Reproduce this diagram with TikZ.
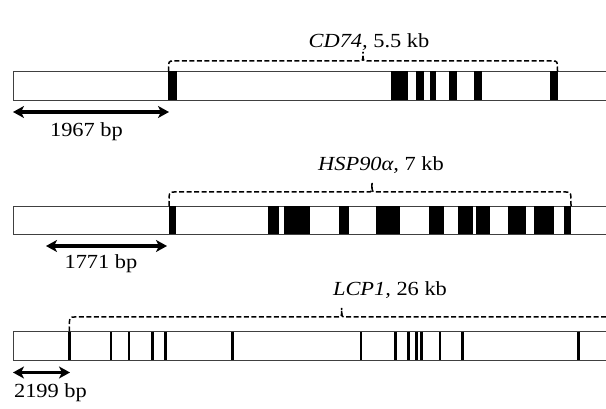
\documentclass[tikz,border=0pt]{standalone}
\usepackage{fontspec}
\setmainfont{Liberation Serif}[FakeStretch=1.12]
\usetikzlibrary{arrows.meta}
\tikzset{
  barline/.style={draw=black!75, line width=0.9pt},
  exon/.style={fill=black, draw=none},
  thinexon/.style={draw=black, line width=2.8pt},
  bracket/.style={draw=black, line width=1.5pt, dash pattern=on 5pt off 2.5pt},
  span/.style={draw=black, line width=3.2pt, {Stealth[length=11pt,width=12pt,inset=3pt]}-{Stealth[length=11pt,width=12pt,inset=3pt]}},
  lbl/.style={font=\fontsize{20}{24}\selectfont, inner sep=0pt, anchor=base},
}
\newcommand{\genebar}[3]{% top, bottom, name
  \draw[barline] (606,#1) -- (13,#1) -- (13,#2) -- (606,#2);
  \coordinate (#3) at (13,#1);
}
\newcommand{\blk}[4]{\fill[exon] (#1,#3) rectangle (#2,#4);}
\newcommand{\brk}[5]{% x1, x2, mid, ytop-of-bar, ybrace
  \draw[bracket] (#1,#4) .. controls (#1,#5) .. (#1+5,#5) -- (#3-4,#5) .. controls (#3,#5) .. (#3,#5-9);
  \draw[bracket] (#2,#4) .. controls (#2,#5) .. (#2-5,#5) -- (#3+4,#5) .. controls (#3,#5) .. (#3,#5-9);
}
\begin{document}
\begin{tikzpicture}[x=1pt,y=-1pt]
\useasboundingbox (0,0) rectangle (606,409);
% ---------- CD74 ----------
\genebar{71.5}{100}{bar1}
\foreach \a/\b in {168/177, 391/407.5, 416/424, 430/435.5, 448.5/457, 473.5/482, 550/558}
  {\blk{\a}{\b}{71.5}{100}}
\brk{168.5}{557.5}{363}{71.5}{61}
\node[lbl] (t1) at (369,48) {\textit{CD74,} 5.5 kb};
\coordinate (a1l) at (13,112);
\coordinate (a1r) at (169,112);
\draw[span] (a1l) -- (a1r);
\node[lbl] (d1) at (86.5,137) {1967 bp};
% ---------- HSP90a ----------
\genebar{206}{234.5}{bar2}
\foreach \a/\b in {168.5/176, 267.5/279, 284/310, 338.5/348.5, 376/400, 429/444, 457.5/472.5, 476/490, 507.5/526, 534/554, 564/571}
  {\blk{\a}{\b}{206}{234.5}}
\brk{169}{571}{372}{206}{192}
\node[lbl] (t2) at (381,171) {\textit{HSP90α,} 7 kb};
\coordinate (a2l) at (46,246);
\coordinate (a2r) at (167,246);
\draw[span] (a2l) -- (a2r);
\node[lbl] (d2) at (101,269) {1771 bp};
% ---------- LCP1 ----------
\genebar{331.5}{360}{bar3}
\foreach \x in {69.3, 111, 129, 152.3, 165.7, 232.3, 361, 395.7, 408.3, 416.7, 421.7, 440, 462.7, 578.3}
  {\draw[thinexon] (\x,331.5) -- (\x,360);}
\draw[bracket] (69.3,331.5) .. controls (69.3,317) .. (74.3,317) -- (337.7,317) .. controls (341.7,317) .. (341.7,308);
\draw[bracket] (606,317) -- (345.7,317) .. controls (341.7,317) .. (341.7,308);
\node[lbl] (t3) at (390,295) {\textit{LCP1,} 26 kb};
\coordinate (a3l) at (13,372.5);
\coordinate (a3r) at (70,372.5);
\draw[span] (a3l) -- (a3r);
\node[lbl] (d3) at (50.5,397) {2199 bp};
\end{tikzpicture}
\end{document}
